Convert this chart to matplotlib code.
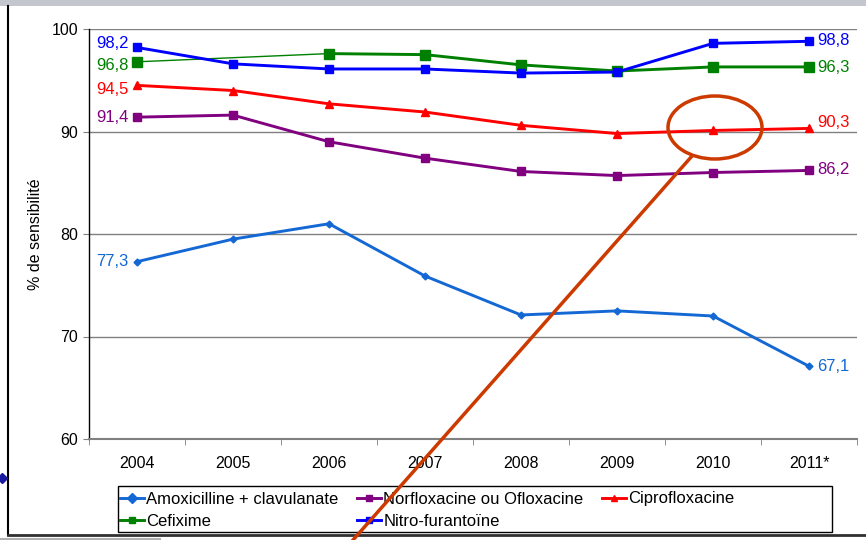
import numpy as np
import matplotlib
matplotlib.use("Agg")
import matplotlib.pyplot as plt
from matplotlib.patches import Ellipse, Rectangle
from matplotlib.lines import Line2D

plt.rcParams['font.family'] = ['Liberation Sans', 'DejaVu Sans']

years = ["2004", "2005", "2006", "2007", "2008", "2009", "2010", "2011*"]
amox = [77.3, 79.5, 81.0, 75.9, 72.1, 72.5, 72.0, 67.1]
norflox = [91.4, 91.6, 89.0, 87.4, 86.1, 85.7, 86.0, 86.2]
cipro = [94.5, 94.0, 92.7, 91.9, 90.6, 89.8, 90.1, 90.3]
cefix = [96.8, np.nan, 97.6, 97.5, 96.5, 95.9, 96.3, 96.3]
nitro = [98.2, 96.6, 96.1, 96.1, 95.7, 95.8, 98.6, 98.8]

names = ["Amoxicilline + clavulanate", "Norfloxacine ou Ofloxacine",
         "Ciprofloxacine", "Cefixime", "Nitro-furantoïne"]
yticks = [60, 70, 80, 90, 100]
ylabel = "% de sensibilité"

W, H = 866, 540
fig = plt.figure(figsize=(W / 100, H / 100), dpi=100)

def fx(px):
    return px / W

def fy(py):
    return 1 - py / H

ax = fig.add_axes([fx(89), fy(439), (857 - 89) / W, (439 - 29) / H])
x = np.arange(len(years))

series = [
    (amox, '#1468D4', 'D', 3.5, 2.1),
    (norflox, '#800080', 's', 5.5, 2.1),
    (cipro, '#FF0000', '^', 5.5, 2.1),
    (cefix, '#008000', 's', 7, 2.1),
    (nitro, '#0000FF', 's', 5.5, 2.1),
]
handles = []
for (vals, col, mk, ms, lw), name in zip(series, names):
    v = np.array(vals, dtype=float)
    ok = ~np.isnan(v)
    if not ok.all():
        # thin connector across the missing point
        xs, vs = x[ok], v[ok]
        ax.plot(xs[:2], vs[:2], color=col, lw=1.0, zorder=3)
    line, = ax.plot(x, v, color=col, lw=lw, marker=mk, ms=ms,
                    markeredgecolor=col, markerfacecolor=col, zorder=3,
                    label=name)
    handles.append(line)

# data labels (first and last values)
left_off = [(0, 0), (0, 0), (0, -4), (0, -4), (0, 4)]
right_off = [(0, 0), (0, 1), (0, 6), (0, -1), (0, 1)]
for (vals, col, mk, ms, lw), lo, ro in zip(series, left_off, right_off):
    first, last = vals[0], vals[-1]
    ax.annotate(f"{first:.1f}".replace('.', ','), (x[0], first),
                xytext=(-6 + lo[0], lo[1] * 0.72), textcoords='offset points',
                ha='right', va='center', color=col, fontsize=12)
    ax.annotate(f"{last:.1f}".replace('.', ','), (x[-1], last),
                xytext=(6 + ro[0], ro[1] * 0.72), textcoords='offset points',
                ha='left', va='center', color=col, fontsize=12)

ax.set_xlim(-0.5, len(years) - 0.5)
ax.set_ylim(60, 100)
ax.set_yticks(yticks)
ax.set_yticklabels([str(t) for t in yticks], fontsize=11.5)
ax.set_xticks(x)
ax.set_xticklabels(years, fontsize=11.5)
ax.set_xticks(np.arange(len(years) + 1) - 0.5, minor=True)
ax.tick_params(axis='x', which='major', length=0, pad=12)
ax.tick_params(axis='x', which='minor', length=4, color='#808080', direction='out')
ax.tick_params(axis='y', length=4, color='#808080', pad=4)
ax.grid(axis='y', color='#808080', lw=1.0, zorder=1)
ax.set_axisbelow(True)
for s in ['top', 'right']:
    ax.spines[s].set_visible(False)
ax.spines['left'].set_color('black')
ax.spines['left'].set_linewidth(1.0)
ax.spines['bottom'].set_color('#808080')
ax.spines['bottom'].set_linewidth(1.5)
ax.set_ylabel(ylabel, fontsize=11.5, labelpad=6)

# legend (row-wise order as in the reference)
order = [0, 3, 1, 4, 2]
fig.patches.append(Rectangle((fx(118), fy(532)), (832 - 118) / W, (532 - 486) / H,
                             transform=fig.transFigure, fill=False,
                             edgecolor='black', lw=1.0))
leg = fig.legend(handles=[handles[i] for i in order], loc='upper left',
                 bbox_to_anchor=(fx(117), fy(489)), ncol=3, frameon=False,
                 fontsize=12, handlelength=1.45, handletextpad=0.15,
                 columnspacing=1.1, labelspacing=0.45, borderpad=0.15,
                 borderaxespad=0)
for h in leg.legend_handles:
    h.set_markersize(5)

# slide frame
fig.patches.append(Rectangle((0, fy(6)), 1, 6 / H, transform=fig.transFigure,
                             facecolor='#C4C6CE', edgecolor='none'))
fig.lines.append(Line2D([fx(8), fx(8)], [fy(6), fy(535)], transform=fig.transFigure,
                        color='black', lw=1.5))
fig.lines.append(Line2D([fx(8), 1], [fy(535), fy(535)], transform=fig.transFigure,
                        color='#303030', lw=2))
fig.lines.append(Line2D([0, fx(160)], [fy(539), fy(539)], transform=fig.transFigure,
                        color='#B0B0B0', lw=1.5))
fig.lines.append(Line2D([fx(2)], [fy(478)], transform=fig.transFigure,
                        color='#1A1AA0', marker='D', ms=5, lw=0))

# orange highlight annotation
orange = '#CC3A00'
fig.patches.append(Ellipse((fx(715), fy(127.5)), 94 / W, 63 / H,
                           transform=fig.transFigure, fill=False,
                           edgecolor=orange, lw=2.5, zorder=10))
fig.lines.append(Line2D([fx(692), fx(353)], [fy(156), fy(540)],
                        transform=fig.transFigure, color=orange, lw=2.5, zorder=10))

fig.savefig("out.png", dpi=100)
